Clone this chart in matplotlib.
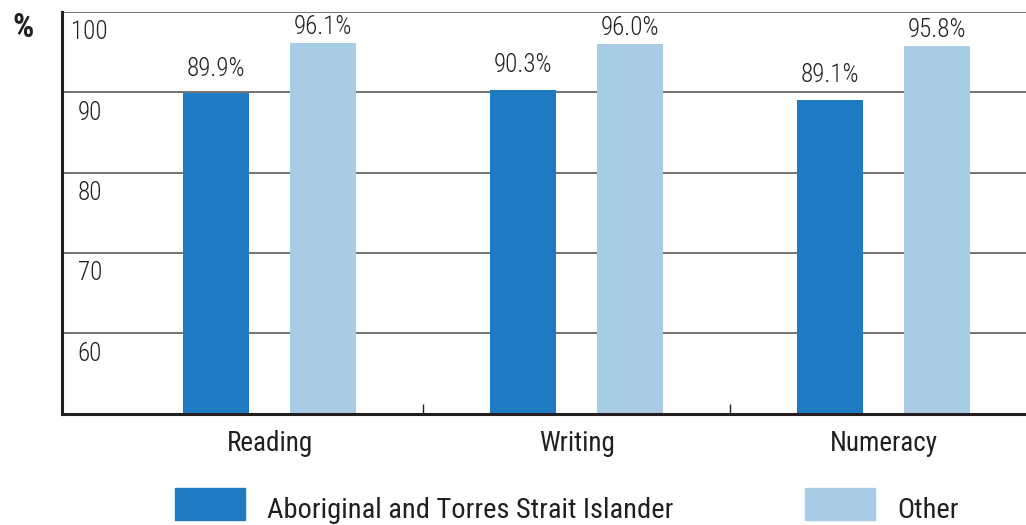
import numpy as np
import matplotlib
matplotlib.use("Agg")
import matplotlib.pyplot as plt
import matplotlib.transforms as mtransforms

plt.rcParams['font.family'] = ['Roboto Condensed', 'Open Sans Condensed', 'Open Sans', 'DejaVu Sans']
plt.rcParams['font.stretch'] = 'condensed'

# Attendance data by learning area
categories = ["Reading", "Writing", "Numeracy"]
indigenous = [89.9, 90.3, 89.1]
other = [96.1, 96.0, 95.8]
series_names = ["Aboriginal and Torres Strait Islander", "Other"]
y_ticks = [60, 70, 80, 90, 100]

dark_blue = '#1f7bc1'
light_blue = '#a8cce6'
text_color = '#231f20'

fig = plt.figure(figsize=(10.26, 5.25), dpi=100)
ax = fig.add_axes([62 / 1026, 1 - 413.5 / 525, 1 - 62 / 1026, (413.5 - 12) / 525])

x = np.arange(len(categories))
width = 0.215
offset = 0.174

bars1 = ax.bar(x - offset, indigenous, width, color=dark_blue, zorder=3)
bars2 = ax.bar(x + offset, other, width, color=light_blue, zorder=3)

ax.set_ylim(50, 100)
ax.set_xlim(-0.676, 2.464)

# horizontal grid lines
for yv in y_ticks:
    ax.axhline(yv, color='#5a5a5a', linewidth=1.2, zorder=1)

# y labels sit inside the plot just below each grid line
trans = mtransforms.blended_transform_factory(ax.transAxes, ax.transData)
for yv in y_ticks:
    ax.annotate(str(yv), xy=(0.0, yv), xycoords=trans, xytext=(20, -6),
                textcoords='offset points', ha='center', va='top',
                fontsize=18, fontweight='light', color=text_color)

ax.set_yticks([])

# value labels
for bars, vals, pad in [(bars1, indigenous, 9), (bars2, other, 3)]:
    for b, v in zip(bars, vals):
        ax.annotate(f"{v:.1f}%", xy=(b.get_x() + b.get_width() / 2, v),
                    xytext=(0, pad), textcoords='offset points',
                    ha='center', va='bottom', fontsize=18, fontweight='light',
                    color=text_color)

# category labels, with small separator ticks between groups
ax.set_xticks(x)
ax.set_xticklabels(categories, fontsize=19.5, color=text_color)
ax.tick_params(axis='x', which='major', length=0, pad=12)
ax.set_xticks([0.5, 1.5], minor=True)
ax.tick_params(axis='x', which='minor', direction='in', length=7, width=1, color='#231f20')

for s in ['top', 'right']:
    ax.spines[s].set_visible(False)
for s in ['left', 'bottom']:
    ax.spines[s].set_linewidth(2.2)
    ax.spines[s].set_color('#231f20')
    ax.spines[s].set_zorder(4)

fig.text(12 / 1026, 1 - 28 / 525, "%", fontsize=24, fontweight='bold',
         ha='left', va='center', color=text_color)

# legend at the bottom
fig.patches.append(plt.Rectangle((175 / 1026, 1 - 520 / 525), 70 / 1026, 32 / 525,
                                 transform=fig.transFigure, color=dark_blue))
fig.patches.append(plt.Rectangle((805 / 1026, 1 - 520 / 525), 70 / 1026, 32 / 525,
                                 transform=fig.transFigure, color=light_blue))
fig.text(267 / 1026, 1 - 510 / 525, series_names[0], fontsize=20.5, ha='left',
         va='center', color=text_color)
fig.text(897 / 1026, 1 - 510 / 525, series_names[1], fontsize=20.5, ha='left',
         va='center', color=text_color)

fig.savefig("out.png", dpi=100)
